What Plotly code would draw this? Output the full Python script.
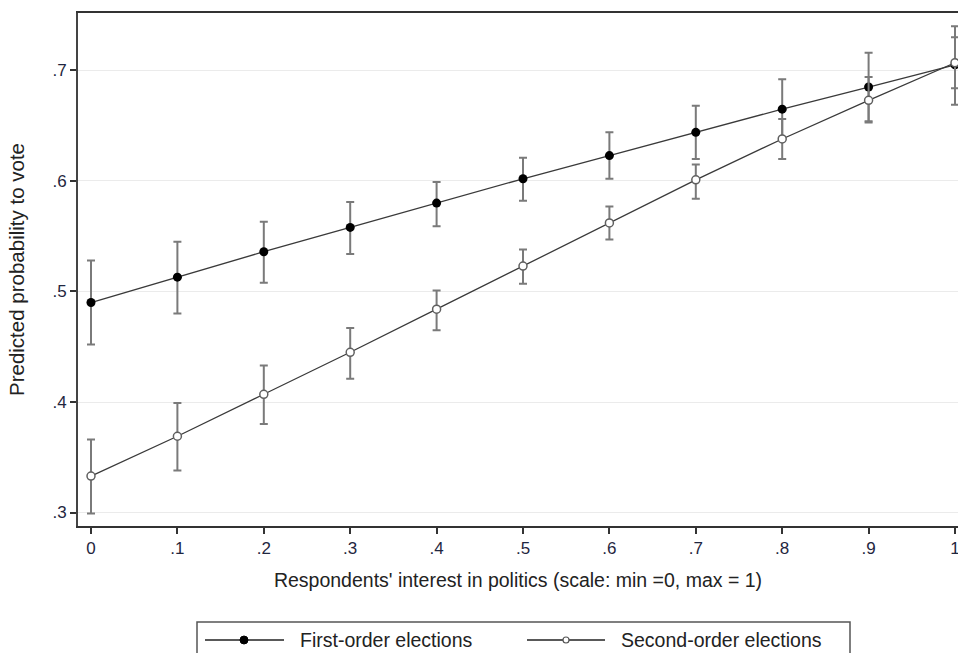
import plotly.graph_objects as go

x_vals = [0, 0.1, 0.2, 0.3, 0.4, 0.5, 0.6, 0.7, 0.8, 0.9, 1.0]
x_tick_labels = ["0", ".1", ".2", ".3", ".4", ".5", ".6", ".7", ".8", ".9", "1"]
y_tick_vals = [0.3, 0.4, 0.5, 0.6, 0.7]
y_tick_labels = [".3", ".4", ".5", ".6", ".7"]

series_names = ["First-order elections", "Second-order elections"]

first_mean = [0.490, 0.513, 0.536, 0.558, 0.580, 0.602, 0.623, 0.644, 0.665, 0.685, 0.705]
first_upper = [0.528, 0.545, 0.563, 0.581, 0.599, 0.621, 0.644, 0.668, 0.692, 0.716, 0.740]
first_lower = [0.452, 0.480, 0.508, 0.534, 0.559, 0.582, 0.602, 0.620, 0.638, 0.654, 0.669]

second_mean = [0.333, 0.369, 0.407, 0.445, 0.484, 0.523, 0.562, 0.601, 0.638, 0.673, 0.707]
second_upper = [0.366, 0.399, 0.433, 0.467, 0.501, 0.538, 0.577, 0.615, 0.656, 0.694, 0.730]
second_lower = [0.299, 0.338, 0.380, 0.421, 0.465, 0.507, 0.547, 0.584, 0.620, 0.653, 0.684]

W, H = 958, 653
ML, MR, MT, MB = 78, 0, 13, 127
PW, PH = W - ML - MR, H - MT - MB


def err(mean, up, lo):
    plus = [u - m for u, m in zip(up, mean)]
    minus = [m - l for m, l in zip(mean, lo)]
    return plus, minus


fp, fm = err(first_mean, first_upper, first_lower)
sp, sm = err(second_mean, second_upper, second_lower)

line_style = dict(color="#3a3a3a", width=1.3)
first_marker = dict(symbol="circle", size=9, color="#000000")
second_marker = dict(symbol="circle", size=8, color="#ffffff", line=dict(color="#606060", width=1.5))

fig = go.Figure()
fig.add_trace(go.Scatter(
    x=x_vals, y=first_mean, mode="lines+markers", name=series_names[0],
    line=line_style, marker=first_marker, cliponaxis=False,
    error_y=dict(type="data", array=fp, arrayminus=fm, color="#7a7a7a", thickness=2, width=4),
))
fig.add_trace(go.Scatter(
    x=x_vals, y=second_mean, mode="lines+markers", name=series_names[1],
    line=line_style, marker=second_marker, cliponaxis=False,
    error_y=dict(type="data", array=sp, arrayminus=sm, color="#7a7a7a", thickness=2, width=4),
))


# ---- custom legend (pixel -> paper helpers) ----
def px(xp):
    return (xp - ML) / PW


def py(yp):
    return (H - MB - yp) / PH


shapes = []
annotations = []
shapes.append(dict(type="rect", xref="paper", yref="paper",
                   x0=px(197), x1=px(850), y0=py(670), y1=py(622),
                   line=dict(color="#555555", width=1.5), fillcolor="white", layer="above"))
leg_y = 640
# item 1
shapes.append(dict(type="line", xref="paper", yref="paper", x0=px(205), x1=px(284),
                   y0=py(leg_y), y1=py(leg_y), line=dict(color="#222222", width=1.4)))
shapes.append(dict(type="circle", xref="paper", yref="paper", x0=px(240), x1=px(248),
                   y0=py(leg_y + 4), y1=py(leg_y - 4), fillcolor="#000000",
                   line=dict(color="#000000", width=1)))
annotations.append(dict(text=series_names[0], xref="paper", yref="paper", x=px(298), y=py(leg_y),
                        xanchor="left", yanchor="middle", showarrow=False,
                        font=dict(size=19.5, color="#222222")))
# item 2
shapes.append(dict(type="line", xref="paper", yref="paper", x0=px(527), x1=px(605),
                   y0=py(leg_y), y1=py(leg_y), line=dict(color="#222222", width=1.4)))
shapes.append(dict(type="circle", xref="paper", yref="paper", x0=px(563), x1=px(569),
                   y0=py(leg_y + 3), y1=py(leg_y - 3), fillcolor="#ffffff",
                   line=dict(color="#555555", width=1.2)))
annotations.append(dict(text=series_names[1], xref="paper", yref="paper", x=px(619), y=py(leg_y),
                        xanchor="left", yanchor="middle", showarrow=False,
                        font=dict(size=19.5, color="#222222")))

tick_font = dict(family="Arial, Liberation Sans, sans-serif", size=17, color="#1f2640")

fig.update_layout(
    width=W, height=H,
    margin=dict(l=ML, r=MR, t=MT, b=MB, pad=0),
    paper_bgcolor="white", plot_bgcolor="white",
    font=dict(family="Arial, Liberation Sans, sans-serif", size=17, color="#222222"),
    showlegend=False,
    shapes=shapes, annotations=annotations,
)
fig.update_xaxes(
    range=[-0.01505, 1.00347], tickmode="array", tickvals=x_vals, ticktext=x_tick_labels,
    ticks="outside", ticklen=6, tickwidth=1.5, tickcolor="#333333", tickfont=tick_font,
    ticklabeloverflow="allow",
    showgrid=False, zeroline=False, automargin=False,
    showline=True, linecolor="#333333", linewidth=2, mirror=True,
    title=dict(text="Respondents' interest in politics (scale: min =0, max = 1)",
               font=dict(size=19.5, color="#222222"), standoff=16),
)
fig.update_yaxes(
    range=[0.2878, 0.7520], tickmode="array", tickvals=y_tick_vals, ticktext=y_tick_labels,
    ticks="outside", ticklen=6, tickwidth=1.5, tickcolor="#333333", tickfont=tick_font,
    showgrid=True, gridcolor="#ebebeb", gridwidth=1, zeroline=False, automargin=False,
    showline=True, linecolor="#444444", linewidth=2, mirror=True,
    title=dict(text="Predicted probability to vote", font=dict(size=20.5, color="#222222"), standoff=22),
)

fig.write_html(
    "out.html",
    config={"displayModeBar": False},
    post_script="document.body.style.margin='0px';document.body.style.overflow='hidden';",
)
